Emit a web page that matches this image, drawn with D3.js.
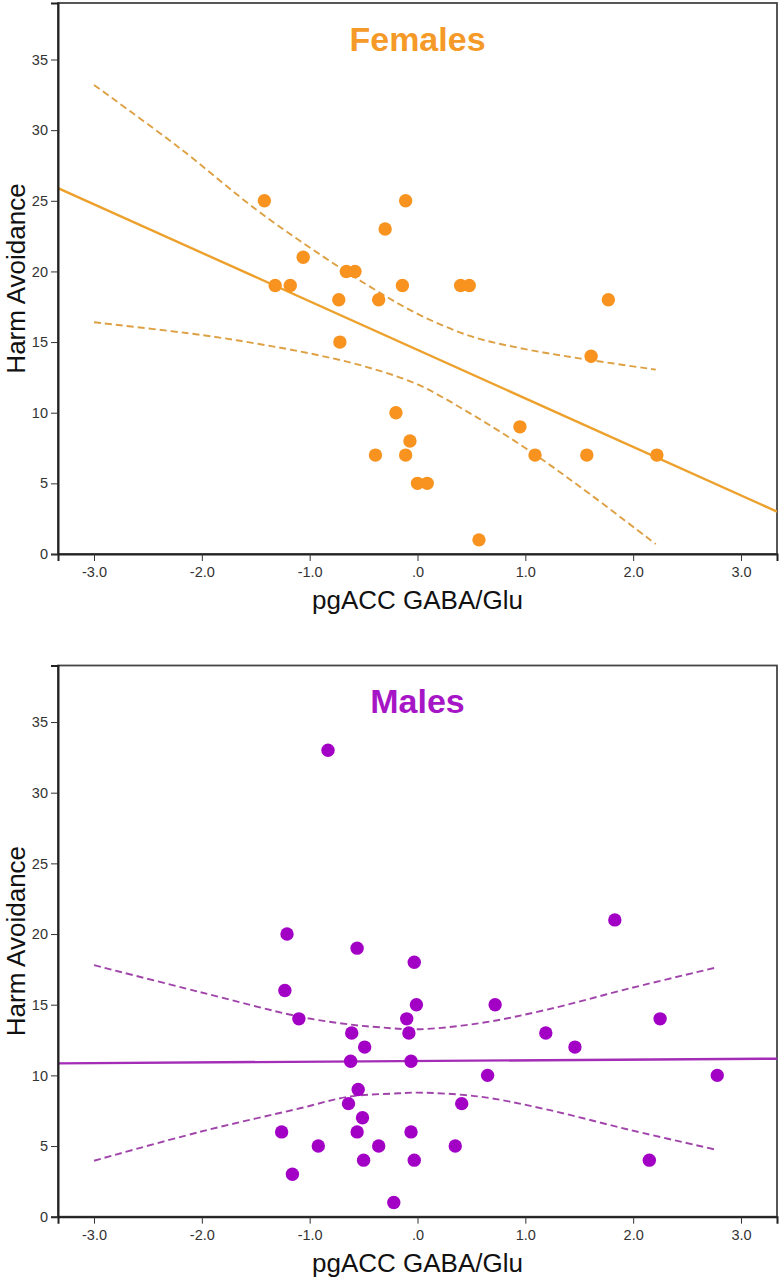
<!DOCTYPE html>
<html>
<head>
<meta charset="utf-8">
<script src="https://cdn.jsdelivr.net/npm/d3@7"></script>
<style>
  html, body { margin: 0; padding: 0; background: #fff; }
  svg { display: block; }
  text { font-family: "Liberation Sans", Arial, sans-serif; }
</style>
</head>
<body>
<svg id="chart" width="780" height="1280"></svg>
<script>
// ---------- data ----------
const xTickValues = [-3, -2, -1, 0, 1, 2, 3];
const yTickValues = [0, 5, 10, 15, 20, 25, 30, 35];
const xDomain = [-3.334, 3.334];
const yDomain = [0, 39];

const femaleX = [-1.42, -1.32, -1.18, -1.06, -0.73, -0.66, -0.58, -0.36, -0.30, -0.11, -0.14, 0.40, 0.48, 1.77, -0.72, -0.39, -0.20, -0.07, -0.11, 0.00, 0.09, 0.57, 0.95, 1.09, 1.57, 2.22, 1.61];
const femaleY = [25, 19, 19, 21, 18, 20, 20, 18, 23, 25, 19, 19, 19, 18, 15, 7, 10, 8, 7, 5, 5, 1, 9, 7, 7, 7, 14];

const femaleFitX = [-3.334, 3.334];
const femaleFitY = [25.9, 3.0];
const femaleUpperX = [-3.0, -2.2, -1.5, -1.0, -0.5, 0.0, 0.5, 1.0, 1.5, 2.21];
const femaleUpperY = [33.2, 28.7, 24.4, 21.7, 19.2, 17.0, 15.4, 14.5, 13.85, 13.05];
const femaleLowerX = [-3.0, -2.0, -1.5, -1.0, -0.5, 0.0, 0.5, 1.0, 1.5, 2.21];
const femaleLowerY = [16.4, 15.5, 14.9, 14.2, 13.3, 12.0, 9.9, 7.5, 4.8, 0.7];

const maleX = [-0.83, -1.21, -0.56, 1.83, -0.03, -1.23, -1.10, -0.61, -0.49, -0.62, -0.55, -0.64, -0.51, -1.26, -0.56, -0.92, -0.36, -0.50, -1.16, -0.22, -0.01, 0.72, -0.10, 2.25, -0.08, 1.19, 1.46, -0.06, 0.65, 2.78, 0.41, -0.06, 0.35, -0.03, 2.15];
const maleY = [33, 20, 19, 21, 18, 16, 14, 13, 12, 11, 9, 8, 7, 6, 6, 5, 5, 4, 3, 1, 15, 15, 14, 14, 13, 13, 12, 11, 10, 10, 8, 6, 5, 4, 4];

const maleFitX = [-3.334, 3.334];
const maleFitY = [10.85, 11.18];
const maleUpperX = [-3.0, -2.02, -1.09, -0.63, -0.35, 0.0, 0.575, 1.19, 1.97, 2.78];
const maleUpperY = [17.8, 15.9, 14.15, 13.6, 13.4, 13.26, 13.69, 14.63, 16.16, 17.65];
const maleLowerX = [-3.0, -2.02, -1.09, -0.63, -0.17, 0.0, 0.575, 1.19, 1.97, 2.78];
const maleLowerY = [3.96, 6.0, 7.67, 8.5, 8.73, 8.78, 8.5, 7.6, 6.14, 4.72];

const panelTitles = ["Females", "Males"];
const xAxisTitle = "pgACC GABA/Glu";
const yAxisTitle = "Harm Avoidance";

// ---------- drawing ----------
const svg = d3.select("#chart");
const zip = (a, b) => a.map((v, i) => [v, b[i]]);
const fmtX = d => d === 0 ? ".0" : (d < 0 ? "-" : "") + Math.abs(d).toFixed(1);

const panels = [
  { top: 3, bottom: 554, title: panelTitles[0], titleColor: "#F59A28",
    pointColor: "#F7931E", fitColor: "#EDA12C", ciColor: "#DDA043",
    x: femaleX, y: femaleY, fitX: femaleFitX, fitY: femaleFitY,
    upX: femaleUpperX, upY: femaleUpperY, loX: femaleLowerX, loY: femaleLowerY },
  { top: 665.5, bottom: 1216.7, title: panelTitles[1], titleColor: "#A716C6",
    pointColor: "#A300C6", fitColor: "#A32DB6", ciColor: "#A044AA",
    x: maleX, y: maleY, fitX: maleFitX, fitY: maleFitY,
    upX: maleUpperX, upY: maleUpperY, loX: maleLowerX, loY: maleLowerY }
];

const left = 58, right = 777;

panels.forEach((p, idx) => {
  const xs = d3.scaleLinear().domain(xDomain).range([left, right]);
  const ys = d3.scaleLinear().domain(yDomain).range([p.bottom, p.top]);
  const g = svg.append("g");

  const clipId = "clip" + idx;
  g.append("clipPath").attr("id", clipId)
    .append("rect").attr("x", left).attr("y", p.top).attr("width", right - left).attr("height", p.bottom - p.top);

  // frame (top/right)
  g.append("rect").attr("x", left).attr("y", p.top).attr("width", right - left).attr("height", p.bottom - p.top)
    .attr("fill", "#fff").attr("stroke", "#454545").attr("stroke-width", 1.8);

  const line = d3.line().x(d => xs(d[0])).y(d => ys(d[1]));
  const curve = d3.line().x(d => xs(d[0])).y(d => ys(d[1])).curve(d3.curveCatmullRom.alpha(0.5));

  const plot = g.append("g").attr("clip-path", `url(#${clipId})`);

  plot.append("path").datum(zip(p.upX, p.upY)).attr("d", curve)
    .attr("fill", "none").attr("stroke", p.ciColor).attr("stroke-width", 1.9).attr("stroke-dasharray", "7,4");
  plot.append("path").datum(zip(p.loX, p.loY)).attr("d", curve)
    .attr("fill", "none").attr("stroke", p.ciColor).attr("stroke-width", 1.9).attr("stroke-dasharray", "7,4");
  plot.append("path").datum(zip(p.fitX, p.fitY)).attr("d", line)
    .attr("fill", "none").attr("stroke", p.fitColor).attr("stroke-width", 2.4);

  plot.selectAll("circle").data(zip(p.x, p.y)).enter().append("circle")
    .attr("cx", d => xs(d[0])).attr("cy", d => ys(d[1])).attr("r", 6.7)
    .attr("fill", p.pointColor);

  // axes
  const xAxis = d3.axisBottom(xs).tickValues(xTickValues).tickFormat(fmtX).tickSizeOuter(0).tickSize(7).tickPadding(6);
  const yAxis = d3.axisLeft(ys).tickValues(yTickValues).tickSizeOuter(0).tickSize(7).tickPadding(3);

  const gx = g.append("g").attr("transform", `translate(0,${p.bottom})`).call(xAxis);
  const gy = g.append("g").attr("transform", `translate(${left},0)`).call(yAxis);
  [gx, gy].forEach(a => {
    a.select(".domain").attr("stroke", "#222").attr("stroke-width", 2);
    a.selectAll(".tick line").attr("stroke", "#333").attr("stroke-width", 1);
    a.selectAll(".tick text").attr("fill", "#333").style("font-size", "14.5px")
      .style("font-family", "'Liberation Sans', Arial, sans-serif");
  });

  // titles
  g.append("text").attr("x", (left + right) / 2).attr("y", p.top + 47.5)
    .attr("text-anchor", "middle").attr("fill", p.titleColor)
    .style("font-size", "34px").style("font-weight", "bold").text(p.title);

  g.append("text").attr("x", (left + right) / 2).attr("y", p.bottom + 55)
    .attr("text-anchor", "middle").attr("fill", "#111")
    .style("font-size", "26px").text(xAxisTitle);

  g.append("text")
    .attr("transform", `translate(25,${(p.top + p.bottom) / 2}) rotate(-90)`)
    .attr("text-anchor", "middle").attr("fill", "#111")
    .style("font-size", "26px").text(yAxisTitle);
});
</script>
</body>
</html>
